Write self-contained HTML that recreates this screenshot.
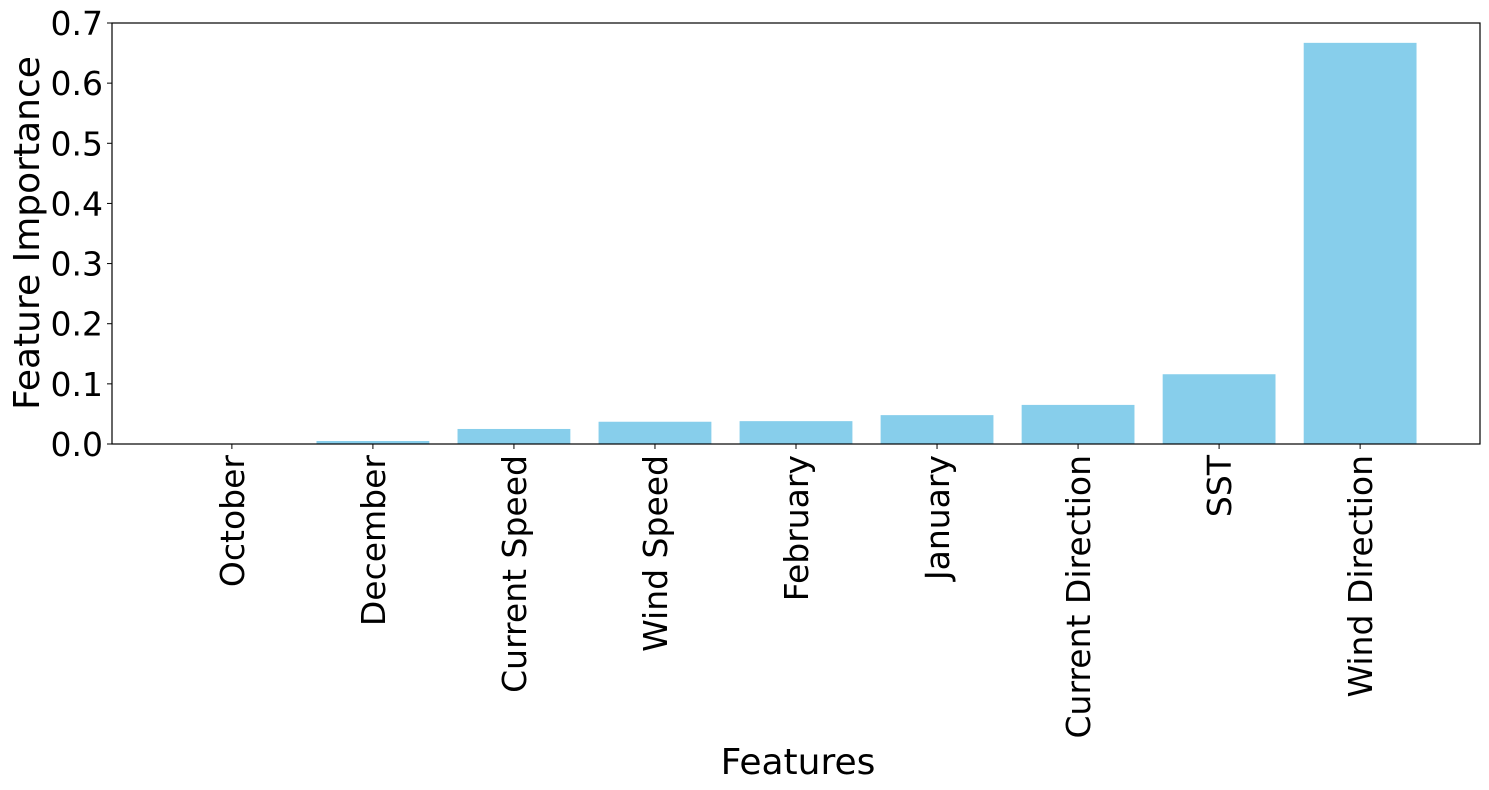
<!DOCTYPE html>
<html><head><meta charset="utf-8"><style>
html,body{margin:0;padding:0;background:#fff;}
svg{display:block;font-family:"DejaVu Sans","Liberation Sans",sans-serif;}
</style></head><body>
<svg id="chart" width="1489" height="790">
<g id="bars"></g>
<g id="yticks"></g>
<g id="xticks"></g>
<rect x="112" y="23" width="1368" height="421" fill="none" stroke="#000" stroke-width="1.2"/>
<text x="798" y="774" font-size="36" text-anchor="middle">Features</text>
<text transform="translate(39,233) rotate(-90)" font-size="36" text-anchor="middle">Feature Importance</text>
</svg>
<script>
const categories=["October","December","Current Speed","Wind Speed","February","January","Current Direction","SST","Wind Direction"];
const values=[0.0005,0.005,0.025,0.037,0.038,0.048,0.065,0.116,0.667];
const yTicks=[0,0.1,0.2,0.3,0.4,0.5,0.6,0.7];
const yTickLabels=["0.0","0.1","0.2","0.3","0.4","0.5","0.6","0.7"];
const NS="http://www.w3.org/2000/svg";
const L=112,R=1480,T=23,B=444;
const xmin=-0.85,xmax=categories.length-1+0.85;
const xs=i=>L+(i-xmin)/(xmax-xmin)*(R-L);
const ys=v=>B-v/0.7*(B-T);
const bw=0.8*(R-L)/(xmax-xmin);
const gb=document.getElementById('bars'),gy=document.getElementById('yticks'),gx=document.getElementById('xticks');
categories.forEach((c,i)=>{
  const r=document.createElementNS(NS,'rect');
  r.setAttribute('x',xs(i)-bw/2);r.setAttribute('y',ys(values[i]));
  r.setAttribute('width',bw);r.setAttribute('height',B-ys(values[i]));
  r.setAttribute('fill','#87ceeb');
  
  
  gb.appendChild(r);
  const t=document.createElementNS(NS,'line');
  t.setAttribute('x1',xs(i));t.setAttribute('x2',xs(i));t.setAttribute('y1',B);t.setAttribute('y2',B+5);t.setAttribute('stroke','#000');
  
  
  gx.appendChild(t);
  const tx=document.createElementNS(NS,'text');
  tx.setAttribute('transform','translate('+(xs(i)+12)+','+(B+11)+') rotate(-90)');
  tx.setAttribute('font-size','33');tx.setAttribute('text-anchor','end');
  tx.textContent=c;
  
  
  gx.appendChild(tx);
});
yTicks.forEach((v,i)=>{
  const t=document.createElementNS(NS,'line');
  t.setAttribute('x1',L-5);t.setAttribute('x2',L);t.setAttribute('y1',ys(v));t.setAttribute('y2',ys(v));t.setAttribute('stroke','#000');
  
  
  gy.appendChild(t);
  const tx=document.createElementNS(NS,'text');
  tx.setAttribute('x',L-9);tx.setAttribute('y',ys(v)+12);
  tx.setAttribute('font-size','33');tx.setAttribute('text-anchor','end');
  tx.textContent=yTickLabels[i];
  
  
  gy.appendChild(tx);
});
</script>
</body></html>
